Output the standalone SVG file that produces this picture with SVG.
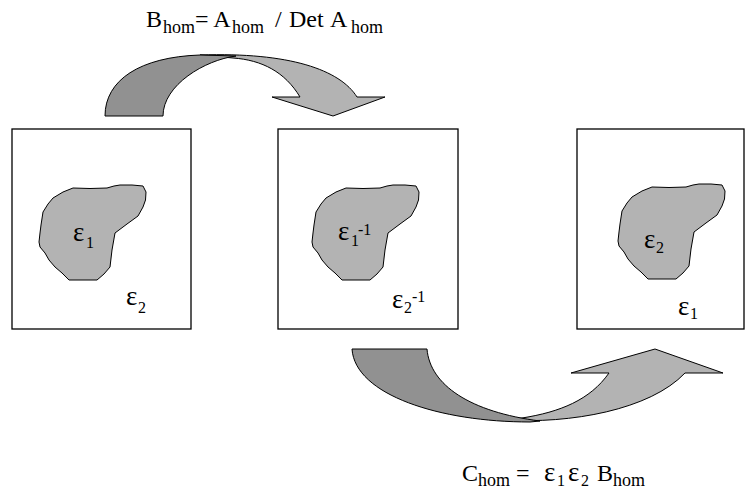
<svg xmlns="http://www.w3.org/2000/svg" xmlns:xlink="http://www.w3.org/1999/xlink" width="746" height="491" viewBox="0 0 746 491">
<style>
.box{fill:#fff;stroke:#000;stroke-width:1.3}
.blob{fill:#b3b3b3;stroke:#000;stroke-width:1;stroke-linejoin:round}
.dark{fill:#919191;stroke:#000;stroke-width:1;stroke-linejoin:round}
.light{fill:#b3b3b3;stroke:#000;stroke-width:1;stroke-linejoin:round}
text{font-family:"Liberation Serif","Times New Roman",serif;fill:#000}
.t{font-size:24px}
.s{font-size:18px}
.e{font-size:27px}
.es{font-size:16px}
</style>
<defs>
<polygon id="blob" class="blob" points="73,188 90,188.5 107,188 114,186 120,185 132,185 143,186 146,192 145.5,200 143,207 138,216 127,224 115,233 112,250 110,267 104,274 97,280 83,280 69,280 62,273 55,267 49,260 45,253 40,247 39,242 40,233 41,225 43,212 48,204 53,198 58,195 63,192"/>
</defs>
<rect width="746" height="491" fill="#fff"/>
<g id="connectors">
  <g id="arrow-top">
    <path class="light" d="M200,55 C290,52 340,70 357,97 L385,97 L333,116 L272,97 L300,97 C285,72 262,60 233,58 Z"/>
    <path class="dark" d="M105,116 C105,80 140,57 200,55 L236,56 C205,60 163,85 163,116 Z"/>
  </g>
  <g id="arrow-bottom">
    <path class="light" d="M505,420 C570,424 650,410 685,373 L723,373 L655,349 L571,373 L609,373 C590,400 560,412 522,418 Z"/>
    <path class="dark" d="M352,349 L427,349 C430,385 470,412 540,421 L530,422 C440,422 355,395 352,349 Z"/>
  </g>
</g>
<g id="label-top">
  <text class="t"><tspan x="146" y="27">B</tspan><tspan class="s" x="163" y="33">hom</tspan><tspan x="195" y="27">= A</tspan><tspan class="s" x="232" y="33">hom</tspan><tspan x="275" y="27">/</tspan><tspan x="289" y="27">Det</tspan><tspan x="330" y="27">A</tspan><tspan class="s" x="351" y="33">hom</tspan></text>
</g>
<g id="box1">
  <rect class="box" x="12" y="129" width="179" height="200"/>
  <use xlink:href="#blob"/>
  <text class="e" x="73" y="241">ε<tspan class="es" x="86" y="248">1</tspan></text>
  <text class="e" x="126" y="305">ε<tspan class="es" x="138" y="313">2</tspan></text>
</g>
<g id="box2">
  <rect class="box" x="278" y="129" width="180" height="200"/>
  <use xlink:href="#blob" transform="translate(273,0)"/>
  <text class="e" x="338" y="240">ε<tspan class="es" x="351" y="246">1</tspan><tspan class="es" x="358" y="235">-1</tspan></text>
  <text class="e" x="392" y="308">ε<tspan class="es" x="404" y="313">2</tspan><tspan class="es" x="412" y="302">-1</tspan></text>
</g>
<g id="box3">
  <rect class="box" x="577" y="129" width="167" height="200"/>
  <use xlink:href="#blob" transform="translate(579,-1)"/>
  <text class="e" x="644" y="248">ε<tspan class="es" x="656" y="253">2</tspan></text>
  <text class="e" x="678" y="315">ε<tspan class="es" x="690" y="319">1</tspan></text>
</g>
<g id="label-bottom">
  <text class="t"><tspan x="462" y="481">C</tspan><tspan class="s" x="478" y="486">hom</tspan><tspan x="516" y="481">=</tspan><tspan class="e" x="544" y="481">ε</tspan><tspan class="es" x="557" y="486">1</tspan><tspan class="e" x="568" y="481">ε</tspan><tspan class="es" x="581" y="486">2</tspan><tspan x="597" y="481">B</tspan><tspan class="s" x="613" y="486">hom</tspan></text>
</g>
</svg>
